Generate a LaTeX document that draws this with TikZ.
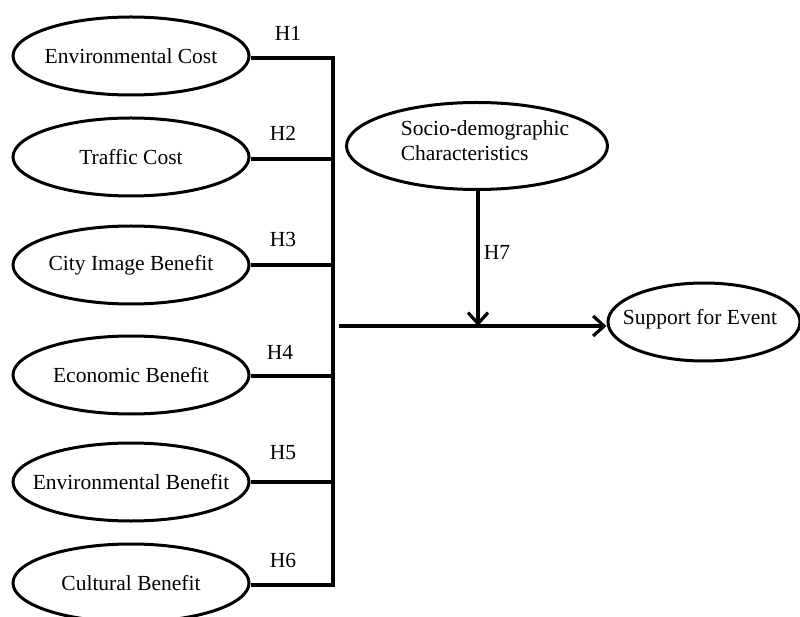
\documentclass[tikz,border=0pt]{standalone}
\usepackage{fontspec}
\setmainfont{Liberation Serif}
\usetikzlibrary{shapes.geometric,arrows.meta}
\begin{document}
\begin{tikzpicture}[x=1pt,y=-1pt,
  var/.style={ellipse,draw,line width=3pt,minimum width=236pt,minimum height=78pt,inner sep=0pt},
  link/.style={line width=3.2pt},
  arr/.style={line width=3.2pt,-{Straight Barb[length=11pt,width=20pt]}},
  hyp/.style={inner sep=0pt},
  font=\fontsize{21.5}{25}\selectfont]
\useasboundingbox (0,0) rectangle (800,617);
% left constructs
\node[var] (e1) at (131,56) {\makebox[0pt]{Environmental Cost}};
\node[var] (e2) at (131,157) {\makebox[0pt]{Traffic Cost}};
\node[var] (e3) at (131,265) {\makebox[0pt]{City Image Benefit}};
\node[var] (e4) at (131,375) {\makebox[0pt]{Economic Benefit}};
\node[var] (e5) at (131,482) {\makebox[0pt]{Environmental Benefit}};
\node[var] (e6) at (131,583) {\makebox[0pt]{Cultural Benefit}};
% hypothesis labels
\node[hyp] (h1) at (288,33) {H1};
\node[hyp] (h2) at (283,133) {H2};
\node[hyp] (h3) at (283,239) {H3};
\node[hyp] (h4) at (280,352) {H4};
\node[hyp] (h5) at (283,453) {H5};
\node[hyp] (h6) at (283,560) {H6};
% vertical bus
\coordinate (vt) at (333,58);
\coordinate (vb) at (333,585);
\draw[link,line cap=rect] (vt) -- (vb);
\draw[link] (e1.east |- vt) -- (vt);
\draw[link] (e2.east) ++(0,2) -- (333,159);
\draw[link] (e3.east) -- (e3.east -| vt);
\draw[link] (e4.east) ++(0,1) -- (333,376);
\draw[link] (e5.east) -- (e5.east -| vt);
\draw[link] (e6.east |- vb) -- (vb);
% moderator
\node[ellipse,draw,line width=3pt,minimum width=261pt,minimum height=87pt,inner sep=0pt] (soc) at (477,146) {};
\node[align=left,inner sep=0pt] (soct) at (485,141) {Socio-demographic\\Characteristics};
% outcome
\node[ellipse,draw,line width=3pt,minimum width=192pt,minimum height=78pt,inner sep=0pt] (sup) at (704,322) {};
\node[inner sep=0pt] (supt) at (700,319) {Support for Event};
% arrows
\coordinate (as) at (339,326);
\coordinate (aj) at (478,326);
\draw[arr] (as) -- (as -| sup.west);
\draw[arr] (soc.south -| aj) -- (aj);
\node[hyp] (h7) at (497,252) {H7};
\end{tikzpicture}
\end{document}
